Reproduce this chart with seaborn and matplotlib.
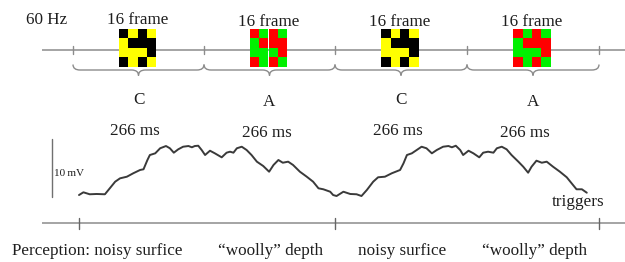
import numpy as np
import matplotlib
matplotlib.use("Agg")
import matplotlib.pyplot as plt
import seaborn as sns
from matplotlib.patches import Rectangle, PathPatch
from matplotlib.path import Path

# ---------------- data ----------------
conditions = ["C", "A", "C", "A"]
frame_labels = ["16 frame", "16 frame", "16 frame", "16 frame"]
duration_labels = ["266 ms", "266 ms", "266 ms", "266 ms"]
perception_labels = ["Perception: noisy surfice", "\u201cwoolly\u201d depth",
                     "noisy surfice", "\u201cwoolly\u201d depth"]
# 4x4 checkerboard pattern (1 = dark colour, 0 = light colour)
pattern = [[1, 0, 1, 0],
           [0, 1, 1, 1],
           [0, 0, 0, 1],
           [1, 0, 1, 0]]
pattern_colors = {"C": ("#000000", "#FFFF00"), "A": ("#FF0000", "#00F000")}

# recorded trace: time (ms) and amplitude (mV)
t_ms = [0, 9, 22, 36, 53, 63, 74, 84, 98, 111, 125, 132, 140, 145, 156, 166,
        178, 186, 194, 203, 213, 224, 231, 237, 244, 251, 258, 268, 278, 292,
        302, 309, 316, 323, 333, 343, 353, 364, 377, 389, 398, 408, 417, 428,
        438, 452, 466, 479, 490, 500, 514,
        520, 527, 541, 555, 568, 578, 589, 602, 612, 626, 640, 657, 664, 671,
        681, 691, 701, 711, 722, 732, 745, 756, 763, 771, 780, 786, 797, 807,
        819, 827, 837, 848, 855, 865, 875, 885, 899, 909, 919, 926, 936, 947,
        957, 970, 984, 998, 1008, 1018, 1029, 1039]
v_mV = [0.34, 0.81, 0.47, 0.52, 0.47, 1.50, 2.64, 3.22, 3.50, 4.09, 4.66, 4.78,
        6.38, 7.24, 7.53, 8.40, 8.79, 8.40, 7.64, 8.22, 8.67, 8.79, 8.57, 8.79,
        8.84, 8.10, 7.24, 7.98, 7.53, 6.84, 7.64, 7.81, 7.64, 8.40, 8.67, 8.10,
        7.24, 6.09, 5.34, 4.36, 5.52, 6.38, 5.91, 6.09, 5.52, 4.36, 3.50, 2.64,
        1.50, 1.33, 0.91,
        0.34, 0.17, 0.91, 0.52, 0.47, 0.17, 1.21, 2.64, 3.40, 3.50, 4.09, 4.66,
        5.81, 7.24, 7.53, 8.10, 8.67, 8.40, 7.53, 8.10, 8.67, 8.79, 8.57, 8.84,
        8.10, 7.24, 7.98, 7.53, 6.84, 7.64, 7.81, 7.64, 8.40, 8.67, 8.22, 7.24,
        6.09, 5.22, 4.19, 5.22, 6.26, 5.91, 6.09, 5.22, 4.36, 3.40, 2.36, 1.33,
        1.33, 0.74]
scale_bar_mV = 10

# ---------------- style ----------------
sns.set_style("white")
plt.rcParams["font.family"] = ["Liberation Serif", "DejaVu Serif"]
TXT = "#1e1e1e"
LINE = "#8c8c8c"
FS = 12.3

W, H = 625, 262
fig = plt.figure(figsize=(W / 100, H / 100), dpi=100)
fig.patch.set_facecolor("white")

# overlay axes in pixel units for the schematic
ax = fig.add_axes([0, 0, 1, 1])
ax.set_xlim(0, W)
ax.set_ylim(H, 0)
ax.axis("off")

# layout
top_y = 50
top_ticks = [73, 204, 335, 467, 599]
bot_y = 223
bot_ticks = [79, 335, 599]

# top timeline
ax.plot([42, W], [top_y, top_y], color=LINE, lw=1.1, solid_capstyle="butt")
for x in top_ticks:
    ax.plot([x, x], [top_y - 4, top_y + 4], color=LINE, lw=1.0)

ax.text(47, 23.5, "60 Hz", ha="center", va="baseline", fontsize=FS, color=TXT)


def brace(x0, x1, y_end=64.5, y_line=70, y_tip=75.5, r=7):
    mid = (x0 + x1) / 2
    verts = [(x0, y_end), (x0, y_line), (x0 + r, y_line),
             (mid - r, y_line),
             (mid, y_line), (mid, y_tip),
             (mid, y_line), (mid + r, y_line),
             (x1 - r, y_line),
             (x1, y_line), (x1, y_end)]
    codes = [Path.MOVETO, Path.CURVE3, Path.CURVE3, Path.LINETO,
             Path.CURVE3, Path.CURVE3, Path.CURVE3, Path.CURVE3,
             Path.LINETO, Path.CURVE3, Path.CURVE3]
    ax.add_patch(PathPatch(Path(verts, codes), fill=False, edgecolor=LINE, lw=1.0))


cell = 9.4
frame_base = [24, 26, 26, 26]
cond_base = {"C": 103.5, "A": 106}
dur_base = [135, 137, 135, 137]
dur_x = [135, 267, 398, 525]
for i, cond in enumerate(conditions):
    x0, x1 = top_ticks[i], top_ticks[i + 1]
    mid = (x0 + x1) / 2 - 1
    brace(x0, x1)
    dark, light = pattern_colors[cond]
    left = mid - 2 * cell
    topp = 29
    for r, row in enumerate(pattern):
        for c, val in enumerate(row):
            ax.add_patch(Rectangle((left + c * cell, topp + r * cell), cell, cell,
                                   facecolor=dark if val else light,
                                   edgecolor="none", zorder=3))
    ax.text(mid, frame_base[i], frame_labels[i], ha="center", va="baseline",
            fontsize=FS, color=TXT)
    ax.text(mid + 1, cond_base[cond], cond, ha="center", va="baseline",
            fontsize=FS, color=TXT)
    ax.text(dur_x[i], dur_base[i], duration_labels[i], ha="center", va="baseline",
            fontsize=FS, color=TXT)

# bottom timeline
ax.plot([42, W], [bot_y, bot_y], color=LINE, lw=1.1, solid_capstyle="butt")
for x in bot_ticks:
    ax.plot([x, x], [bot_y - 5, bot_y + 6], color="#666666", lw=1.0)

perc_x = [97.5, 271, 402, 535]
for x, lab in zip(perc_x, perception_labels):
    ax.text(x, 255, lab, ha="center", va="baseline", fontsize=FS, color=TXT)

ax.text(578, 206, "triggers", ha="center", va="baseline", fontsize=FS, color=TXT)
ax.text(54, 176.5, "10\u2009mV", ha="left", va="baseline", fontsize=8,
        color=TXT, family=["Liberation Serif", "DejaVu Serif"])

# waveform axes: time in ms, amplitude in mV
px_per_ms = 520 / 1064
axw = fig.add_axes([79 / W, (H - 197) / H, 520 / W, 58 / H])
axw.set_xlim(0, 1064)
axw.set_ylim(0, scale_bar_mV)
axw.patch.set_alpha(0)
axw.axis("off")
sns.lineplot(x=t_ms, y=v_mV, ax=axw, color="#3a3a3a", lw=1.4,
             estimator=None, sort=False, legend=False)
for ln in axw.lines:
    ln.set_clip_on(False)
# scale bar (10 mV) left of the trace
bar_t = (52 - 79) / px_per_ms
axw.plot([bar_t, bar_t], [0, scale_bar_mV], color="#707070", lw=1.0, clip_on=False)

fig.savefig("out.png", dpi=100, facecolor="white")
